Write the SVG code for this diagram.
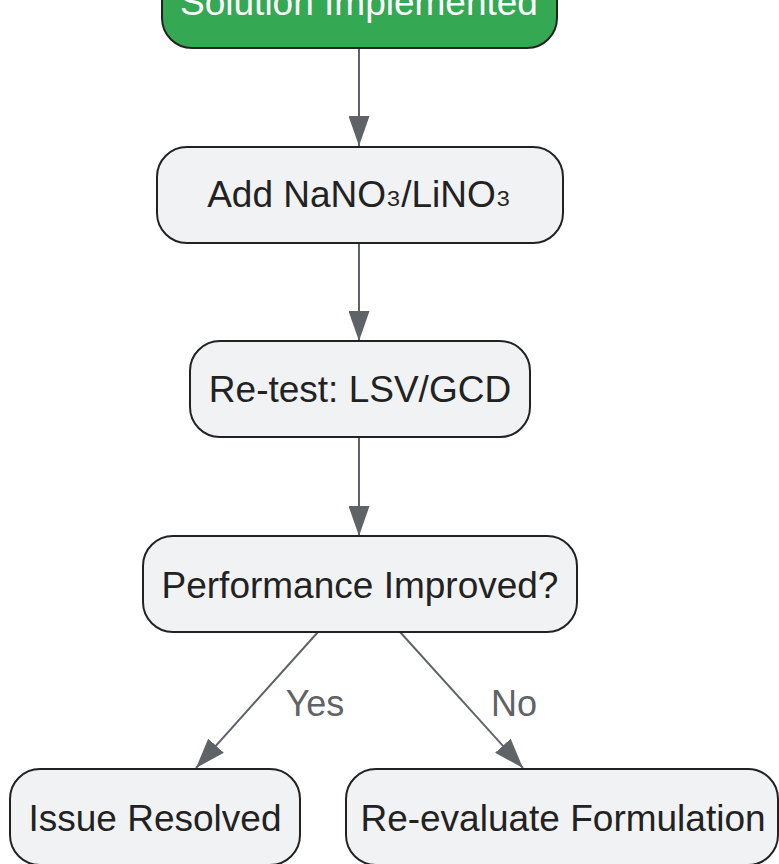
<svg xmlns="http://www.w3.org/2000/svg" width="779" height="864" viewBox="0 0 779 864">
<style>
.node rect{fill:#f1f2f4;stroke:#222222;stroke-width:2}
.node text{font-family:"Liberation Sans",Arial,sans-serif;font-size:37px;fill:#222222;text-anchor:middle}
.start rect{fill:#34a853;stroke:#222222;stroke-width:2}
.start text{font-family:"Liberation Sans",Arial,sans-serif;font-size:37px;fill:#ffffff;text-anchor:middle}
.edge{stroke:#5f6368;stroke-width:2;fill:none;marker-end:url(#arrow)}
.elabel{font-family:"Liberation Sans",Arial,sans-serif;font-size:36px;fill:#5f6368;text-anchor:middle}
</style>
<defs>
<marker id="arrow" markerUnits="userSpaceOnUse" markerWidth="30" markerHeight="21" refX="30" refY="10.5" orient="auto">
<path d="M0,0 L30,10.5 L0,21 Z" fill="#5f6368"/>
</marker>
</defs>
<rect width="779" height="864" fill="#ffffff"/>
<g id="connectors">
<line class="edge" x1="359" y1="48" x2="359" y2="146"/>
<line class="edge" x1="359" y1="243" x2="359" y2="341"/>
<line class="edge" x1="359" y1="437" x2="359" y2="536"/>
<line class="edge" x1="318" y1="632" x2="196" y2="768"/>
<line class="edge" x1="400" y1="632" x2="523" y2="768"/>
<text class="elabel" x="315" y="716">Yes</text>
<text class="elabel" x="514" y="716">No</text>
</g>
<g id="solution-implemented" class="start">
<rect x="162" y="-48" width="395" height="96" rx="30" ry="30"/>
<text x="359" y="15">Solution Implemented</text>
</g>
<g id="add-nitrate" class="node">
<rect x="157" y="147" width="406" height="96" rx="30" ry="30"/>
<text x="359" y="207">Add NaNO<tspan dy="-4">₃</tspan><tspan dy="4">/LiNO</tspan><tspan dy="-4">₃</tspan></text>
</g>
<g id="retest" class="node">
<rect x="190" y="341" width="340" height="96" rx="30" ry="30"/>
<text x="360" y="402">Re-test: LSV/GCD</text>
</g>
<g id="performance-improved" class="node">
<rect x="143" y="536" width="434" height="96" rx="30" ry="30"/>
<text x="360" y="598">Performance Improved?</text>
</g>
<g id="issue-resolved" class="node">
<rect x="10" y="769" width="290" height="96" rx="30" ry="30"/>
<text x="155" y="831">Issue Resolved</text>
</g>
<g id="re-evaluate" class="node">
<rect x="346" y="769" width="432" height="96" rx="30" ry="30"/>
<text x="563" y="831">Re-evaluate Formulation</text>
</g>
</svg>
